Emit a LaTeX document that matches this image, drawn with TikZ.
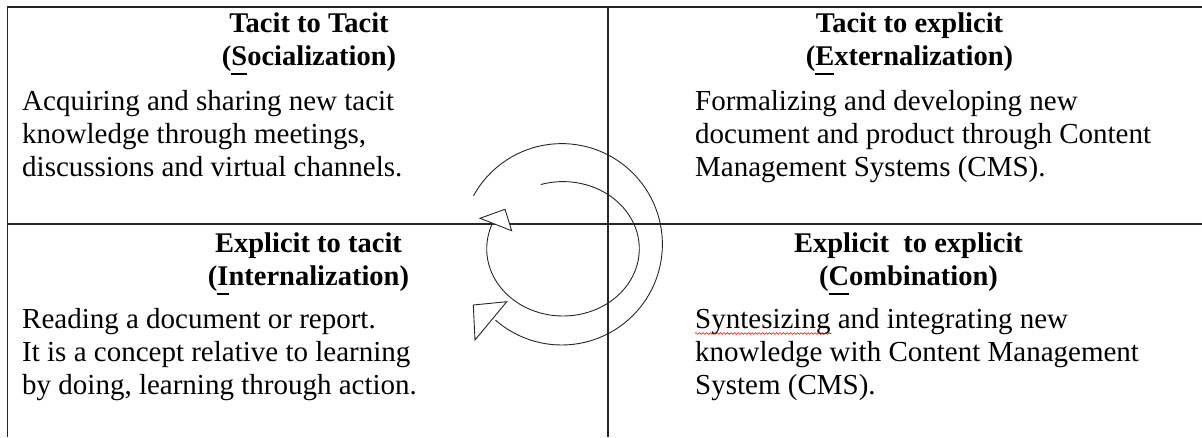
\documentclass[tikz,border=0pt]{standalone}
\usepackage{fontspec}
\setmainfont{Liberation Serif}
\usetikzlibrary{decorations.pathmorphing}
\newcommand\ulfirst[1]{\setbox0\hbox{#1}\rlap{\rule[-9.5pt]{\wd0}{1.8pt}}#1}
\begin{document}
\begin{tikzpicture}[x=1pt,y=-1pt,
  txt/.style={anchor=base west, inner sep=0pt, font=\fontsize{29}{33}\selectfont},
  ttl/.style={anchor=base, inner sep=0pt, font=\fontsize{28.5}{33}\selectfont\bfseries},
  frameline/.style={line width=1.4pt, draw=black!85},
  spiral/.style={line width=0.9pt, draw=black!85},
  tipshape/.style={line width=0.9pt, draw=black!85, fill=white, line join=miter},
  squiggle/.style={draw=red, line width=0.6pt, decorate, decoration={snake, amplitude=0.9pt, segment length=3.5pt}}]
\useasboundingbox (0,0) rectangle (1202,437);
% frame
\coordinate (tl) at (7.5,7);
\coordinate (tr) at (1202,7);
\coordinate (bl) at (7.5,437);
\coordinate (mt) at (608,7);
\coordinate (mb) at (608,437);
\coordinate (ml) at (7.5,224);
\coordinate (mr) at (1202,224);
\draw[frameline] (tr) -- (tl) -- (bl);
\draw[frameline] (mt) -- (mb);
\draw[frameline] (ml) -- (mr);
% top left
\node[ttl] (tla) at (309,32.3) {Tacit to Tacit};
\node[ttl] (tlb) at (309,65) {(\ulfirst{S}ocialization)};
\node[txt] (tl1) at (22,110) {Acquiring and sharing new tacit};
\node[txt] (tl2) at (22,143) {knowledge through meetings,};
\node[txt] (tl3) at (22,176) {discussions and virtual channels.};
% top right
\node[ttl] (tra) at (909.5,32.3) {Tacit to explicit};
\node[ttl] (trb) at (909.5,65) {(\ulfirst{E}xternalization)};
\node[txt] (tr1) at (695,110.5) {Formalizing and developing new};
\node[txt] (tr2) at (695,143.3) {document and product through Content};
\node[txt] (tr3) at (695,176) {Management Systems (CMS).};
% bottom left
\node[ttl] (bla) at (308.5,252.3) {Explicit to tacit};
\node[ttl] (blb) at (308.5,285) {(\ulfirst{I}nternalization)};
\node[txt] (bl1) at (22,328.5) {Reading a document or report.};
\node[txt] (bl2) at (22,361.5) {It is a concept relative to learning};
\node[txt] (bl3) at (22,394.5) {by doing, learning through action.};
% bottom right
\node[ttl] (bra) at (908.5,252.3) {Explicit\ \ to explicit};
\node[ttl] (brb) at (908.5,285) {(\ulfirst{C}ombination)};
\node[txt] (br1) at (695,328.5) {Syntesizing and integrating new};
\node[txt] (br2) at (695,361.5) {knowledge with Content Management};
\node[txt] (br3) at (695,394.5) {System (CMS).};
\draw[squiggle] (695,333.5) -- (831,333.5);
% spiral
\draw[spiral] plot[domain=208.8:491.1, samples=90] ({561.7+100.7*cos(\x)},{244.3+100.7*sin(\x)});
\draw[tipshape] (473.3,305) -- (506.7,301.7) -- (475,340) -- cycle;
\draw[spiral] plot[domain=253.1:561.2, samples=90] ({563+76.3*cos(\x)},{248.8+67.2*sin(\x)});
\draw[tipshape] (480,218.3) -- (505,209.3) -- (511.7,230.7) -- cycle;
\end{tikzpicture}
\end{document}
